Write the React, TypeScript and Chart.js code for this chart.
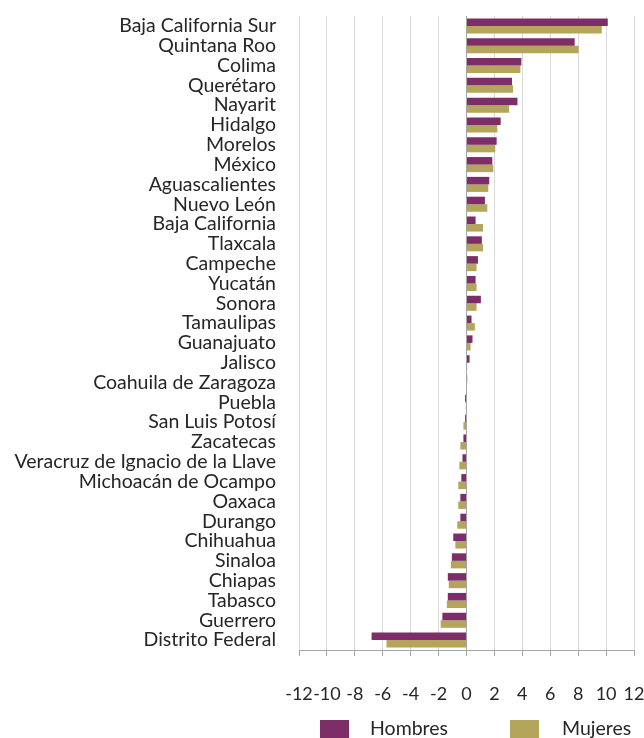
import React, { useEffect, useRef } from "react";
import { Chart, registerables } from "chart.js";

Chart.register(...registerables);

const states = [
  "Baja California Sur",
  "Quintana Roo",
  "Colima",
  "Querétaro",
  "Nayarit",
  "Hidalgo",
  "Morelos",
  "México",
  "Aguascalientes",
  "Nuevo León",
  "Baja California",
  "Tlaxcala",
  "Campeche",
  "Yucatán",
  "Sonora",
  "Tamaulipas",
  "Guanajuato",
  "Jalisco",
  "Coahuila de Zaragoza",
  "Puebla",
  "San Luis Potosí",
  "Zacatecas",
  "Veracruz de Ignacio de la Llave",
  "Michoacán de Ocampo",
  "Oaxaca",
  "Durango",
  "Chihuahua",
  "Sinaloa",
  "Chiapas",
  "Tabasco",
  "Guerrero",
  "Distrito Federal",
];

const hombres = [
  10.12, 7.75, 3.93, 3.26, 3.65, 2.45, 2.16, 1.85, 1.63, 1.32,
  0.65, 1.1, 0.82, 0.65, 1.03, 0.36, 0.43, 0.22, 0.05, -0.1,
  -0.1, -0.22, -0.29, -0.37, -0.44, -0.44, -0.95, -1.05, -1.34, -1.34,
  -1.73, -6.8,
];

const mujeres = [
  9.69, 8.03, 3.86, 3.33, 3.05, 2.21, 2.06, 1.92, 1.56, 1.49,
  1.18, 1.18, 0.72, 0.72, 0.72, 0.6, 0.29, 0.05, 0.02, -0.05,
  -0.22, -0.44, -0.51, -0.59, -0.59, -0.66, -0.8, -1.12, -1.27, -1.41,
  -1.85, -5.73,
];

const xMin = -12;
const xMax = 12;
const xStep = 2;
const seriesNames = ["Hombres", "Mujeres"];
const seriesColors = ["#7D2E68", "#B3A55A"];

const FONT = "Lato";
const TEXT_COLOR = "#262626";

export default function App() {
  const canvasRef = useRef<HTMLCanvasElement | null>(null);

  useEffect(() => {
    document.documentElement.style.overflow = "hidden";
    document.body.style.margin = "0";
    const canvas = canvasRef.current;
    if (!canvas) return;

    const legendPlugin = {
      id: "bottomLegend",
      afterDraw(chart: any) {
        const ctx = chart.ctx;
        const area = chart.chartArea;
        const items = [
          { bx: area.left + 21, tx: area.left + 71 },
          { bx: area.left + 211, tx: area.left + 263 },
        ];
        ctx.save();
        ctx.font = `19.5px ${FONT}`;
        ctx.textBaseline = "alphabetic";
        ctx.textAlign = "left";
        items.forEach((it, i) => {
          ctx.fillStyle = seriesColors[i];
          ctx.fillRect(it.bx, 712, 29, 18);
          ctx.fillStyle = TEXT_COLOR;
          ctx.fillText(seriesNames[i], it.tx, 727);
        });
        ctx.restore();
      },
    };

    const chart = new Chart(canvas, {
      type: "bar",
      data: {
        labels: states,
        datasets: [
          {
            label: seriesNames[0],
            data: hombres,
            backgroundColor: seriesColors[0],
            borderWidth: 0,
            categoryPercentage: 0.76,
            barPercentage: 1,
          },
          {
            label: seriesNames[1],
            data: mujeres,
            backgroundColor: seriesColors[1],
            borderWidth: 0,
            categoryPercentage: 0.76,
            barPercentage: 1,
          },
        ],
      },
      options: {
        indexAxis: "y",
        responsive: false,
        animation: false,
        layout: { padding: { top: 8, right: 0, left: 0, bottom: 0 } },
        plugins: {
          legend: { display: false },
          tooltip: { enabled: false },
        },
        scales: {
          x: {
            type: "linear",
            position: "bottom",
            min: xMin,
            max: xMax,
            ticks: {
              stepSize: xStep,
              autoSkip: false,
              maxRotation: 0,
              padding: 27,
              color: TEXT_COLOR,
              font: { family: FONT, size: 18 },
            },
            grid: {
              color: (c: any) => (c.tick && c.tick.value === 0 ? "#a6a6a6" : "#d9d9d9"),
              tickColor: "#a6a6a6",
              lineWidth: 1,
              drawTicks: true,
              tickLength: 6,
            },
            border: { display: true, color: "#a6a6a6" },
            afterFit: (scale: any) => {
              scale.height = 88;
              scale.paddingLeft = 0;
              scale.paddingRight = 10;
            },
          },
          y: {
            type: "category",
            position: "left",
            ticks: {
              autoSkip: false,
              padding: 23,
              color: TEXT_COLOR,
              font: { family: FONT, size: 19.5 },
            },
            grid: { display: false, drawTicks: false, tickLength: 0 },
            border: { display: false },
            afterFit: (scale: any) => {
              scale.width = 291;
              scale.paddingTop = 0;
              scale.paddingBottom = 0;
            },
          },
        },
      },
      plugins: [legendPlugin],
    });

    return () => {
      chart.destroy();
    };
  }, []);

  return (
    <div style={{ width: 644, height: 738, paddingTop: 8, paddingLeft: 8, boxSizing: "border-box" }}>
      <canvas ref={canvasRef} width={636} height={730} style={{ display: "block" }} />
    </div>
  );
}
